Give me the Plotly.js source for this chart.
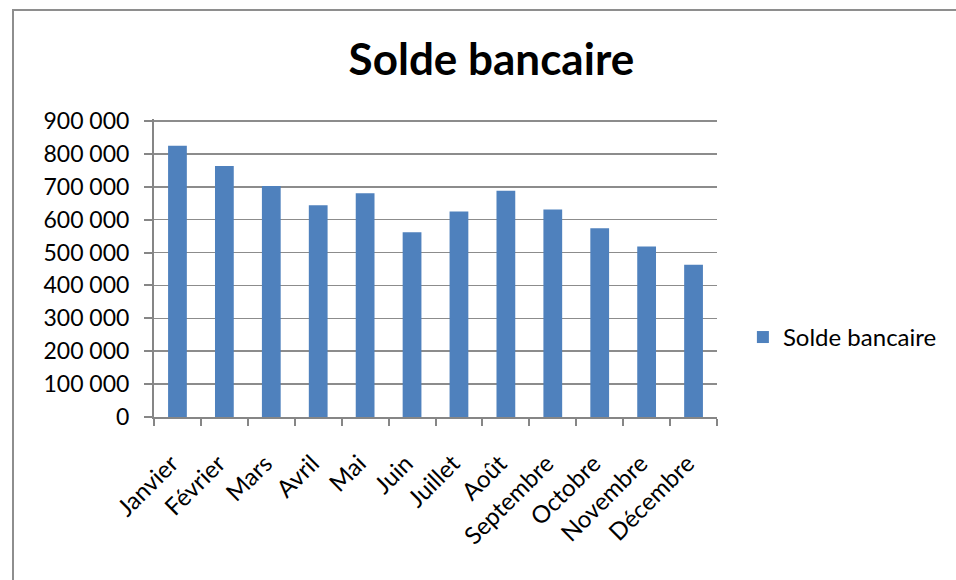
<!DOCTYPE html>
<html>
<head>
<meta charset="utf-8">
<script src="https://cdn.plot.ly/plotly-3.0.1.min.js"></script>
<style>
  html, body { margin: 0; padding: 0; background: #fff; }
  #chart { width: 956px; height: 580px; position: absolute; left: 0; top: 0; }
  #frame { position: absolute; left: 12px; top: 9px; width: 1200px; height: 1000px;
           border-left: 2px solid #8e8e8e; border-top: 2px solid #8e8e8e; pointer-events: none; }
</style>
</head>
<body>
<div id="chart"></div>
<div id="frame"></div>
<script>
const months = ["Janvier", "Février", "Mars", "Avril", "Mai", "Juin", "Juillet", "Août", "Septembre", "Octobre", "Novembre", "Décembre"];
const soldeValues = [825000, 763000, 702000, 644000, 680000, 562000, 625000, 688000, 631000, 574000, 518000, 463000];
const yTickValues = [0, 100000, 200000, 300000, 400000, 500000, 600000, 700000, 800000, 900000];
const seriesName = "Solde bancaire";
const chartTitle = "Solde bancaire";

const font = "Lato, 'Open Sans', sans-serif";

const trace = {
  type: "bar",
  x: months,
  y: soldeValues,
  name: seriesName,
  marker: { color: "#4f81bd" },
  showlegend: true,
  hoverinfo: "x+y"
};

const layout = {
  width: 956,
  height: 580,
  paper_bgcolor: "rgba(0,0,0,0)",
  plot_bgcolor: "rgba(0,0,0,0)",
  separators: ", ",
  margin: { l: 154, r: 239, t: 119, b: 163, pad: 0 },
  title: {
    text: "<b>" + chartTitle + "</b>",
    font: { family: font, size: 44, color: "#000" },
    x: 0.514, xanchor: "center", xref: "container",
    y: 0.897, yanchor: "middle", yref: "container"
  },
  bargap: 0.6,
  font: { family: font, color: "#000" },
  xaxis: {
    type: "category",
    tickangle: -45,
    tickfont: { family: font, size: 24, color: "#000" },
    showline: true, linecolor: "#868686", linewidth: 2,
    ticks: "outside", tickson: "boundaries", ticklen: 7, tickcolor: "#868686", tickwidth: 2,
    ticklabelstandoff: 21,
    ticklabelshift: -6,
    showgrid: false, zeroline: false,
    fixedrange: true
  },
  yaxis: {
    range: [0, 906000],
    tickvals: yTickValues,
    tickformat: ",d",
    tickfont: { family: font, size: 23, color: "#000" },
    showline: true, linecolor: "#868686", linewidth: 2,
    ticks: "outside", ticklen: 8, tickcolor: "#868686", tickwidth: 2,
    ticklabelstandoff: 10,
    showgrid: true, gridcolor: "#8c8c8c", gridwidth: 1.6,
    zeroline: false,
    fixedrange: true
  },
  legend: {
    x: 1.046, xanchor: "left",
    y: 0.267, yanchor: "middle",
    font: { family: font, size: 24, color: "#000" },
    bgcolor: "rgba(0,0,0,0)",
    itemsizing: "constant"
  },
  showlegend: true
};

Plotly.newPlot("chart", [trace], layout, { displayModeBar: false, staticPlot: true });
</script>
</body>
</html>
